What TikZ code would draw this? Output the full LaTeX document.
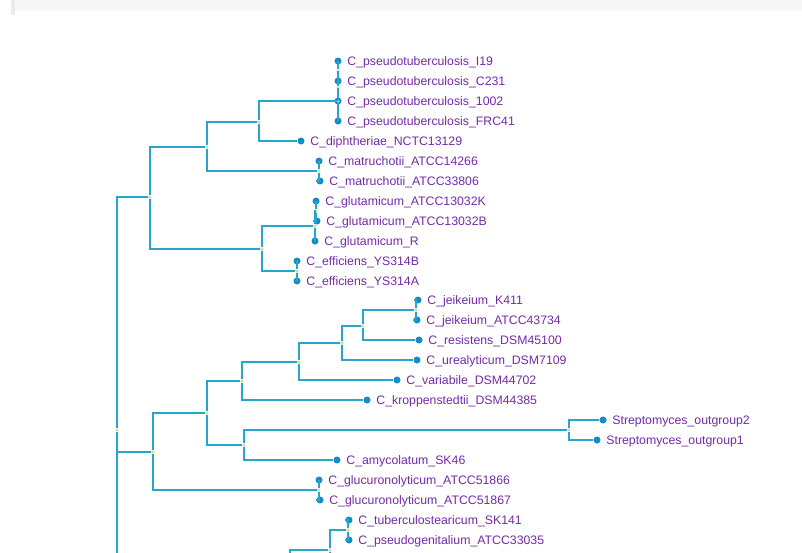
\documentclass[tikz,border=0pt]{standalone}
\usepackage{fontspec}
\setmainfont{Liberation Sans}
\definecolor{brc}{RGB}{38,166,206}
\definecolor{tipc}{RGB}{20,140,200}
\definecolor{labc}{RGB}{115,42,168}
\definecolor{jnc}{RGB}{215,220,140}
\begin{document}
\begin{tikzpicture}[x=1pt,y=-1pt,
br/.style={%
draw=brc,
line width=2.5pt,
},
tip/.style={%
circle,
fill=tipc,
inner sep=0pt,
minimum size=7pt,
},
txt/.style={%
font=\fontsize{12.3}{14}\selectfont,
text=labc,
inner sep=0pt,
anchor=mid west,
yshift=-2pt,
},
jn/.style={%
circle,
fill=jnc,
inner sep=0pt,
minimum size=3.5pt,
},
label distance=5.5pt
]
\useasboundingbox(0,0)rectangle(802,552);
\clip(0,0)rectangle(802,552);

%top bar
\fill[black!3](11,0)rectangle(802,11);
\fill[black!8](11,0)rectangle(15,15);

%leaves
\node[tip,label={[txt]east:C\_pseudotuberculosis\_I19}](l1)at(338,61){};
\node[tip,label={[txt]east:C\_pseudotuberculosis\_C231}](l2)at(338,81){};
\node[tip,label={[txt]east:C\_pseudotuberculosis\_1002}](l3)at(338,101){};
\node[tip,label={[txt]east:C\_pseudotuberculosis\_FRC41}](l4)at(338,121){};
\node[tip,label={[txt]east:C\_diphtheriae\_NCTC13129}](l5)at(301,141){};
\node[tip,label={[txt]east:C\_matruchotii\_ATCC14266}](l6)at(319,161){};
\node[tip,label={[txt]east:C\_matruchotii\_ATCC33806}](l7)at(320,181){};
\node[tip,label={[txt]east:C\_glutamicum\_ATCC13032K}](l8)at(316,201){};
\node[tip,label={[txt]east:C\_glutamicum\_ATCC13032B}](l9)at(317,221){};
\node[tip,label={[txt]east:C\_glutamicum\_R}](l10)at(315,241){};
\node[tip,label={[txt]east:C\_efficiens\_YS314B}](l11)at(297,261){};
\node[tip,label={[txt]east:C\_efficiens\_YS314A}](l12)at(297,281){};
\node[tip,label={[txt]east:C\_jeikeium\_K411}](l13)at(418,300){};
\node[tip,label={[txt]east:C\_jeikeium\_ATCC43734}](l14)at(417,320){};
\node[tip,label={[txt]east:C\_resistens\_DSM45100}](l15)at(419,340){};
\node[tip,label={[txt]east:C\_urealyticum\_DSM7109}](l16)at(417,360){};
\node[tip,label={[txt]east:C\_variabile\_DSM44702}](l17)at(397,380){};
\node[tip,label={[txt]east:C\_kroppenstedtii\_DSM44385}](l18)at(367,400){};
\node[tip,label={[txt]east:Streptomyces\_outgroup2}](l19)at(603,420){};
\node[tip,label={[txt]east:Streptomyces\_outgroup1}](l20)at(597,440){};
\node[tip,label={[txt]east:C\_amycolatum\_SK46}](l21)at(337,460){};
\node[tip,label={[txt]east:C\_glucuronolyticum\_ATCC51866}](l22)at(319,480){};
\node[tip,label={[txt]east:C\_glucuronolyticum\_ATCC51867}](l23)at(320,500){};
\node[tip,label={[txt]east:C\_tuberculostearicum\_SK141}](l24)at(349,520){};
\node[tip,label={[txt]east:C\_pseudogenitalium\_ATCC33035}](l25)at(349,540){};

%inner nodes
\node[jn](R)at(117,430){};
\node[jn](U)at(150,197){};
\node[jn](A)at(207,147){};
\node[jn](A1)at(259,122){};
\node[jn](P)at(338,101){};
\node[jn](Q2)at(338,88){};
\node[jn](Q1)at(338,71){};
\node[jn](A2)at(319,171){};
\node[jn](B)at(262,249){};
\node[jn](B1)at(315,226){};
\node[jn](G)at(316,211){};
\node[jn](B2)at(297,271){};
\node[jn](C)at(153,452){};
\node[jn](C1)at(207,413){};
\node[jn](C1a)at(242,381){};
\node[jn](H)at(299,362){};
\node[jn](I)at(342,343){};
\node[jn](J)at(363,326){};
\node[jn](K)at(416,310){};
\node[jn](C1b)at(244,445){};
\node[jn](S)at(569,430){};
\node[jn](C2)at(319,490){};
\node[jn](E)at(330,550){};
\node[jn](F)at(348,530){};
\coordinate(low)at(200,640);
\coordinate(D)at(290,600);
\coordinate(Eb)at(380,600);

%upper clade
\draw[br](R)|-(U);
\draw[br](U)|-(A);
\draw[br](U)|-(B);
\draw[br](A)|-(A1);
\draw[br](A)|-(A2);
\draw[br](A1)|-(P);
\draw[br](A1)|-(l5);
\draw[br](P)|-(Q2);
\draw[br](P)|-(l4);
\draw[br](Q2)|-(Q1);
\draw[br](Q2)|-(l3);
\draw[br](Q1)|-(l1);
\draw[br](Q1)|-(l2);
\draw[br](A2)|-(l6);
\draw[br](A2)|-(l7);
\draw[br](B)|-(B1);
\draw[br](B)|-(B2);
\draw[br](B1)|-(G);
\draw[br](B1)|-(l10);
\draw[br](G)|-(l8);
\draw[br](G)|-(l9);
\draw[br](B2)|-(l11);
\draw[br](B2)|-(l12);

%middle clade
\draw[br](R)|-(C);
\draw[br](C)|-(C1);
\draw[br](C)|-(C2);
\draw[br](C1)|-(C1a);
\draw[br](C1)|-(C1b);
\draw[br](C1a)|-(H);
\draw[br](C1a)|-(l18);
\draw[br](H)|-(I);
\draw[br](H)|-(l17);
\draw[br](I)|-(J);
\draw[br](I)|-(l16);
\draw[br](J)|-(K);
\draw[br](J)|-(l15);
\draw[br](K)|-(l13);
\draw[br](K)|-(l14);
\draw[br](C1b)|-(S);
\draw[br](C1b)|-(l21);
\draw[br](S)|-(l19);
\draw[br](S)|-(l20);
\draw[br](C2)|-(l22);
\draw[br](C2)|-(l23);

%lower clade (cut off)
\draw[br](R)|-(low);
\draw[br](low)|-(D);
\draw[br](D)|-(E);
\draw[br](E)|-(Eb);
\draw[br](E)|-(F);
\draw[br](F)|-(l24);
\draw[br](F)|-(l25);

\end{tikzpicture}
\end{document}
